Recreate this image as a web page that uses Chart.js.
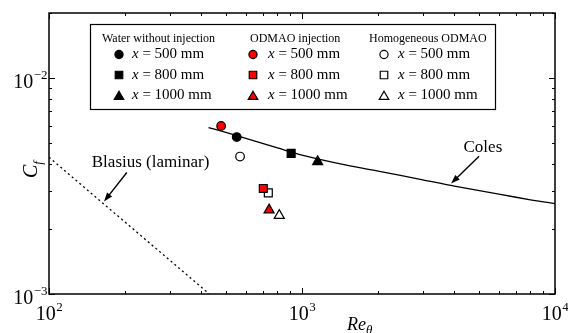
<!DOCTYPE html>
<html>
<head>
<meta charset="utf-8">
<script src="https://cdn.jsdelivr.net/npm/chart.js@4.4.1/dist/chart.umd.min.js"></script>
<style>
  html, body { margin: 0; padding: 0; background: #fff; }
  #wrap { width: 568px; height: 333px; }
</style>
</head>
<body>
<div id="wrap"><canvas id="cf" width="568" height="333"></canvas></div>
<script>
// skin friction coefficient vs momentum thickness Reynolds number
const xMin = 100, xMax = 10000;
const yMin = 0.001, yMax = 0.02;
const xMajor = [100, 1000, 10000];
const yMajor = [0.001, 0.01];

// Coles turbulent correlation
const colesRe = [427, 500, 600, 800, 1000, 1500, 2000, 3000, 4000, 6000, 8000, 10000];
const colesCf = [0.00590, 0.00560, 0.00525, 0.00475, 0.00440, 0.00395, 0.00371, 0.00338, 0.00316, 0.00290, 0.00273, 0.00262];

// Blasius laminar
const blasiusRe = [100, 430];
const blasiusCf = [0.00430, 0.00100];

// measurements at x = 500 / 800 / 1000 mm
const stations = ['x = 500 mm', 'x = 800 mm', 'x = 1000 mm'];
const shapes = ['circle', 'rect', 'triangle'];
const waterRe = [552, 906, 1153];
const waterCf = [0.00533, 0.00448, 0.00410];
const injRe = [479, 703, 741];
const injCf = [0.00600, 0.00308, 0.00245];
const homoRe = [569, 736, 813];
const homoCf = [0.00433, 0.00294, 0.00231];

const seriesNames = ['Water without injection', 'ODMAO injection', 'Homogeneous ODMAO'];
const seriesFill = ['#000000', '#ff0000', '#ffffff'];

const radii = { circle: 4.3, rect: 5.6, triangle: 5.8 };
const SERIF = '"Liberation Serif", "Times New Roman", serif';

function pts(xs, ys) { return xs.map((x, i) => ({ x: x, y: ys[i] })); }

function markerSet(label, xs, ys, fill) {
  return {
    label: label, data: pts(xs, ys),
    pointStyle: shapes, pointRadius: shapes.map(s => radii[s]),
    pointBackgroundColor: fill, pointBorderColor: '#000', pointBorderWidth: 1.2,
    showLine: false
  };
}

function drawSup(ctx, base, sup, x, y, align) {
  // draws "10" with a superscript exponent; x is the anchor by align
  ctx.font = '20px ' + SERIF;
  const wb = ctx.measureText(base).width;
  ctx.font = '13px ' + SERIF;
  const ws = ctx.measureText(sup).width;
  let x0 = align === 'center' ? x - (wb + ws) / 2 : x - wb - ws;
  ctx.textAlign = 'left';
  ctx.textBaseline = 'alphabetic';
  ctx.font = '20px ' + SERIF;
  ctx.fillText(base, x0, y);
  ctx.font = '13px ' + SERIF;
  ctx.fillText(sup, x0 + wb + 0.5, y - 9);
}

function arrow(ctx, x1, y1, x2, y2) {
  const a = Math.atan2(y2 - y1, x2 - x1), L = 9, W = 3.2;
  ctx.beginPath(); ctx.moveTo(x1, y1); ctx.lineTo(x2 - Math.cos(a) * L * 0.8, y2 - Math.sin(a) * L * 0.8); ctx.stroke();
  ctx.beginPath();
  ctx.moveTo(x2, y2);
  ctx.lineTo(x2 - Math.cos(a) * L - Math.sin(a) * W, y2 - Math.sin(a) * L + Math.cos(a) * W);
  ctx.lineTo(x2 - Math.cos(a) * L + Math.sin(a) * W, y2 - Math.sin(a) * L - Math.cos(a) * W);
  ctx.closePath(); ctx.fill();
}

const framePlugin = {
  id: 'frame',
  afterDraw(chart) {
    const ctx = chart.ctx, a = chart.chartArea;
    const xs = chart.scales.x, ys = chart.scales.y;
    ctx.save();
    ctx.strokeStyle = '#000'; ctx.fillStyle = '#000';

    // box
    ctx.lineWidth = 1.5;
    ctx.strokeRect(a.left, a.top, a.right - a.left, a.bottom - a.top);

    // inward log ticks on all four sides
    ctx.lineWidth = 1;
    ctx.beginPath();
    for (let d = 100; d < xMax; d *= 10) {
      for (let k = 1; k <= 10; k++) {
        const v = d * k;
        if (v < xMin || v > xMax) continue;
        const px = Math.round(xs.getPixelForValue(v)) + 0.5;
        const len = (k === 1 || k === 10) ? 6 : 3;
        ctx.moveTo(px, a.bottom); ctx.lineTo(px, a.bottom - len);
        ctx.moveTo(px, a.top); ctx.lineTo(px, a.top + len);
      }
    }
    for (let d = 0.001; d < yMax; d *= 10) {
      for (let k = 1; k <= 10; k++) {
        const v = d * k;
        if (v < yMin * 0.999 || v > yMax * 1.001) continue;
        const py = Math.round(ys.getPixelForValue(v)) + 0.5;
        const len = (k === 1 || k === 10) ? 6 : 3;
        ctx.moveTo(a.left, py); ctx.lineTo(a.left + len, py);
        ctx.moveTo(a.right, py); ctx.lineTo(a.right - len, py);
      }
    }
    ctx.stroke();

    // tick labels
    xMajor.forEach(v => {
      drawSup(ctx, '10', String(Math.round(Math.log10(v))), xs.getPixelForValue(v), a.bottom + 26, 'center');
    });
    yMajor.forEach(v => {
      drawSup(ctx, '10', '\u2212' + String(-Math.round(Math.log10(v))), a.left - 2, ys.getPixelForValue(v) + 10, 'right');
    });

    // axis titles
    ctx.textAlign = 'left'; ctx.textBaseline = 'alphabetic';
    ctx.font = 'italic 18px ' + SERIF;
    ctx.fillText('Re', 347, 330);
    const wRe = ctx.measureText('Re').width;
    ctx.font = 'italic 13px ' + SERIF;
    ctx.fillText('\u03b8', 347 + wRe, 334);

    ctx.save();
    ctx.translate(37, 178);
    ctx.rotate(-Math.PI / 2);
    ctx.font = 'italic 20px ' + SERIF;
    ctx.fillText('C', 0, 0);
    const wC = ctx.measureText('C').width;
    ctx.font = 'italic 13px ' + SERIF;
    ctx.fillText('f', wC, 5);
    ctx.restore();

    // annotations, placed in data space
    const P = (re, cf) => [xs.getPixelForValue(re), ys.getPixelForValue(cf)];
    ctx.lineWidth = 1.4;
    let t = P(5012, 0.00434), h = P(3883, 0.00325);
    arrow(ctx, t[0], t[1], h[0], h[1]);
    t = P(203, 0.00365); h = P(165, 0.00268);
    arrow(ctx, t[0], t[1], h[0], h[1]);
    ctx.font = '17px ' + SERIF;
    ctx.textAlign = 'center'; ctx.textBaseline = 'middle';
    let c = P(5188, 0.00477);
    ctx.fillText('Coles', c[0], c[1]);
    c = P(252, 0.00406);
    ctx.fillText('Blasius (laminar)', c[0], c[1]);

    // legend box
    ctx.lineWidth = 1.2;
    ctx.fillStyle = '#fff';
    ctx.fillRect(90, 24, 405, 85);
    ctx.strokeRect(90.5, 24.5, 405, 85);
    const titleX = [102, 250, 369], markX = [119, 253, 384], textX = [132, 268, 398];
    const rowY = [54.5, 75, 95.5];
    ctx.fillStyle = '#000';
    ctx.textAlign = 'left'; ctx.textBaseline = 'middle';
    seriesNames.forEach((name, i) => {
      ctx.font = '12px ' + SERIF;
      ctx.fillStyle = '#000';
      ctx.fillText(name, titleX[i], 39);
      stations.forEach((st, j) => {
        ctx.fillStyle = seriesFill[i];
        ctx.strokeStyle = '#000';
        ctx.lineWidth = 1.2;
        const dy = shapes[j] === 'triangle' ? 1.2 : 0;
        Chart.helpers.drawPoint(ctx, { pointStyle: shapes[j], radius: radii[shapes[j]] * 0.95, rotation: 0, borderWidth: 1.2 }, markX[i], rowY[j] + dy);
        ctx.fillStyle = '#000';
        ctx.font = 'italic 15px ' + SERIF;
        ctx.fillText('x', textX[i], rowY[j]);
        const wx = ctx.measureText('x').width;
        ctx.font = '15px ' + SERIF;
        ctx.fillText(st.slice(1), textX[i] + wx, rowY[j]);
      });
    });
    ctx.restore();
  }
};

new Chart(document.getElementById('cf'), {
  type: 'scatter',
  data: {
    datasets: [
      { label: 'Coles', data: pts(colesRe, colesCf), showLine: true, pointRadius: 0,
        borderColor: '#000', borderWidth: 1.3, tension: 0.3, fill: false },
      { label: 'Blasius (laminar)', data: pts(blasiusRe, blasiusCf), showLine: true, pointRadius: 0,
        borderColor: '#000', borderWidth: 1.3, borderDash: [2, 3], fill: false },
      markerSet(seriesNames[0], waterRe, waterCf, seriesFill[0]),
      markerSet(seriesNames[1], injRe, injCf, seriesFill[1]),
      markerSet(seriesNames[2], homoRe, homoCf, seriesFill[2])
    ]
  },
  options: {
    responsive: false,
    animation: false,
    devicePixelRatio: 1,
    layout: { padding: { left: 49, right: 13, top: 13, bottom: 39 } },
    plugins: { legend: { display: false }, tooltip: { enabled: false } },
    scales: {
      x: { type: 'logarithmic', min: xMin, max: xMax, display: false },
      y: { type: 'logarithmic', min: yMin, max: yMax, display: false }
    }
  },
  plugins: [framePlugin]
});
</script>
</body>
</html>
